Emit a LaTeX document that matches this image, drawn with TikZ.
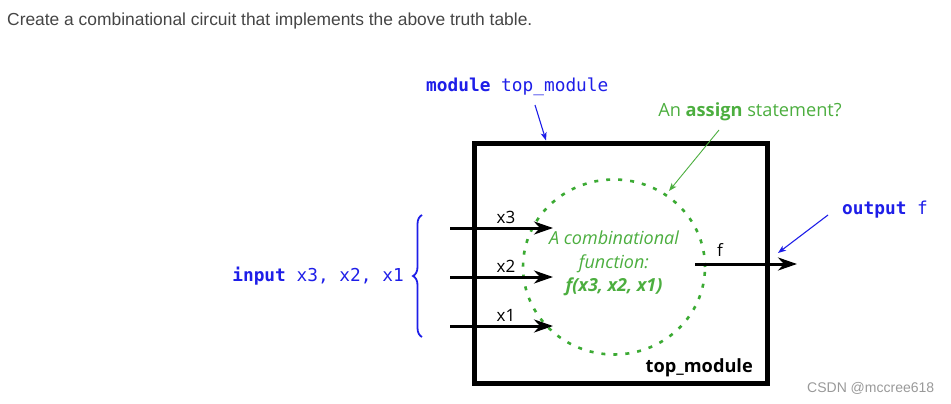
\documentclass[tikz,border=0pt]{standalone}
\usepackage{fontspec}
\setmainfont{Open Sans}
\setmonofont{DejaVu Sans Mono}
\newfontfamily\titlefont{Liberation Sans}
\usetikzlibrary{arrows.meta,calc,positioning,shapes.geometric,decorations.pathreplacing}
\definecolor{verilogBlue}{HTML}{1E1EE8}
\definecolor{assignGreen}{HTML}{4CAE3F}
\definecolor{dotGreen}{HTML}{3BAA33}
\definecolor{titleInk}{HTML}{454545}
\definecolor{markGray}{HTML}{999999}
\tikzset{
  wire/.style={line width=3pt, -{Stealth[length=19pt, width=13pt, inset=6pt]}},
  pointer/.style={line width=1.1pt, -{Stealth[length=8pt, width=6pt, inset=2pt]}},
  vcode/.style={font=\ttfamily\fontsize{17.8}{20}\selectfont, text=verilogBlue},
  portname/.style={font=\fontsize{17}{20}\selectfont}
}
\begin{document}
\begin{tikzpicture}[x=1pt,y=-1pt, every node/.style={inner sep=0pt}]
    \useasboundingbox (0,0) rectangle (951,404);
    \node[anchor=west, text=titleInk, font=\titlefont\fontsize{17.4}{20}\selectfont] (title) at (7,21) {Create a combinational circuit that implements the above truth table.};
    % module box and function
    \node[draw, line width=5pt, minimum width=293pt, minimum height=240pt] (box) at (620.5,263) {};
    \node[ellipse, draw=dotGreen, line width=2.6pt, dash pattern=on 4pt off 8pt, minimum width=182pt, minimum height=175pt] (func) at (614,267) {};
    \node[align=center, text=assignGreen, font=\itshape\fontsize{18}{23.5}\selectfont] (funclabel) at (614,263.5) {A combinational\\function:\\\textbf{f(x3, x2, x1)}};
    \node[anchor=south east, font=\bfseries\fontsize{18.2}{20}\selectfont] (boxname) at (753,377) {top\_module};
    % inputs
    \foreach \name/\y in {x3/228, x2/277, x1/326} {
      \coordinate (in\name) at (450,\y);
      \coordinate (tip\name) at (553,\y);
      \draw[wire] (in\name) -- (tip\name);
      \node[portname] (lbl\name) at (506,\y-11) {\name};
    }
    \draw[line width=1.8pt, verilogBlue, decorate, decoration={brace, amplitude=9pt}] (422,337) -- (422,215);
    \node[vcode, anchor=east] (inlabel) at (404,276) {\textbf{input} x3, x2, x1};
    % output
    \coordinate (outfrom) at (695,264);
    \coordinate (outto) at (797,264);
    \draw[wire] (outfrom) -- (outto);
    \node[portname] (lblf) at (720,250) {f};
    \node[vcode, anchor=west] (outlabel) at (842,210) {\textbf{output} f};
    \coordinate (outtail) at (828,215);
    \coordinate (outhead) at (778,253);
    \draw[pointer, verilogBlue] (outtail) -- (outhead);
    % module name
    \node[vcode, anchor=west] (modlabel) at (426,87) {\textbf{module} top\_module};
    \coordinate (modtail) at (535,105);
    \draw[pointer, verilogBlue] (modtail) -- ($(box.north west)!0.25!(box.north east)$);
    % assign note
    \node[text=assignGreen, font=\fontsize{18.2}{20}\selectfont] (assign) at (750,112) {An \textbf{assign} statement?};
    \coordinate (assigntail) at (719,130);
    \coordinate (assignhead) at (669,191);
    \draw[pointer, line width=0.9pt, assignGreen] (assigntail) -- (assignhead);
    \node[anchor=west, text=markGray, font=\titlefont\fontsize{14}{16}\selectfont] (mark) at (807,388) {CSDN @mccree618};
  \end{tikzpicture}
\end{document}
